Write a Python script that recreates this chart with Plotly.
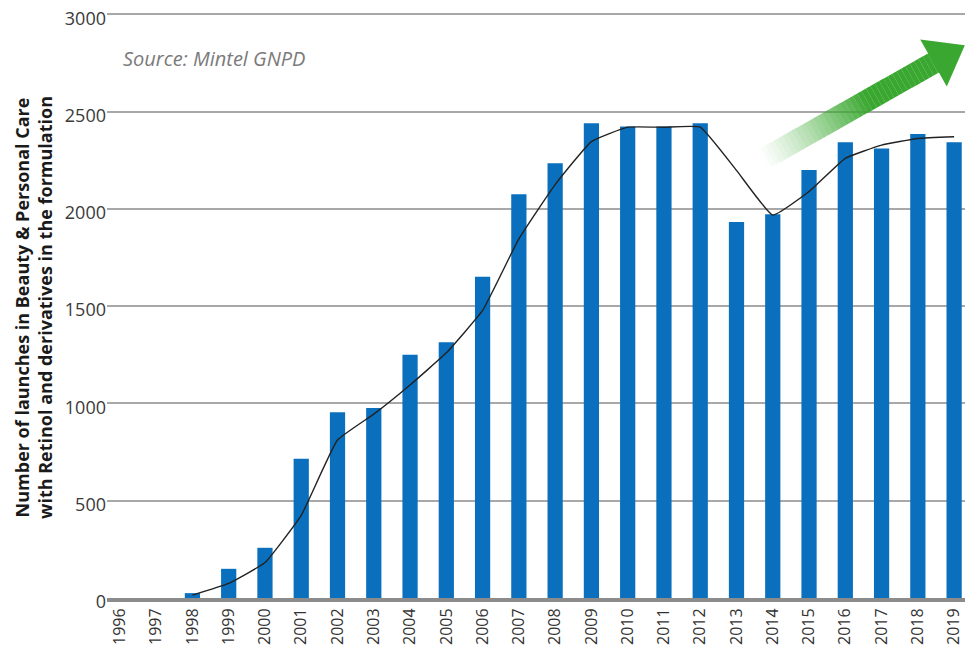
import plotly.graph_objects as go
import math

years = [str(y) for y in range(1996, 2020)]
launches = [0, 0, 25, 150, 258, 716, 955, 977, 1250, 1314, 1651, 2075, 2235,
            2440, 2423, 2423, 2440, 1933, 1972, 2200, 2342, 2311, 2385, 2342]
trend_years = [str(y) for y in range(1998, 2020)]
trend = [15, 75, 182, 425, 812, 945, 1095, 1260, 1478, 1846, 2125, 2346,
         2420, 2420, 2420, 2198, 1968, 2089, 2260, 2328, 2362, 2371]

W, H = 965, 649
ML, MR, MT, MB = 107, 0, 12, 51
PW, PH = W - ML - MR, H - MT - MB

def px2paper(x, y):
    return (x - ML) / PW, 1 - (y - MT) / PH

fig = go.Figure()
fig.add_trace(go.Bar(x=years, y=launches, width=0.42,
                     marker=dict(color="#0a6fbd", line=dict(width=0)),
                     showlegend=False))
fig.add_trace(go.Scatter(x=trend_years, y=trend, mode="lines",
                         line=dict(color="#222222", width=1.4, shape="spline", smoothing=0.35),
                         showlegend=False))

# green gradient arrow (decoration)
tail = (762, 160)
head_base = (937, 61)
dx, dy = head_base[0] - tail[0], head_base[1] - tail[1]
L = math.hypot(dx, dy)
ux, uy = dx / L, dy / L
nx, ny = -uy, ux
hw = 11
N = 40
shapes = []
for i in range(N):
    t0, t1 = i / N, (i + 1.02) / N
    pts = [
        (tail[0] + dx * t0 + nx * hw, tail[1] + dy * t0 + ny * hw),
        (tail[0] + dx * t1 + nx * hw, tail[1] + dy * t1 + ny * hw),
        (tail[0] + dx * t1 - nx * hw, tail[1] + dy * t1 - ny * hw),
        (tail[0] + dx * t0 - nx * hw, tail[1] + dy * t0 - ny * hw),
    ]
    op = min(1.0, ((i + 0.5) / N) / 0.6) ** 1.2
    path = "M " + " L ".join("%.5f,%.5f" % px2paper(*p) for p in pts) + " Z"
    shapes.append(dict(type="path", xref="paper", yref="paper", path=path,
                       fillcolor="rgba(58,168,48,%.3f)" % op, line=dict(width=0), layer="above"))
hh = 27
tipx, tipy = head_base[0] + ux * 32, head_base[1] + uy * 32
hp = [(head_base[0] + nx * hh - ux * 4, head_base[1] + ny * hh - uy * 4), (tipx, tipy),
      (head_base[0] - nx * hh - ux * 4, head_base[1] - ny * hh - uy * 4)]
path = "M " + " L ".join("%.5f,%.5f" % px2paper(*p) for p in hp) + " Z"
shapes.append(dict(type="path", xref="paper", yref="paper", path=path,
                   fillcolor="rgb(58,168,48)", line=dict(width=0), layer="above"))

sx, sy = px2paper(121, 58)
tx, ty = px2paper(33, 308)
fig.update_layout(
    width=W, height=H,
    margin=dict(l=ML, r=MR, t=MT, b=MB, autoexpand=False),
    paper_bgcolor="white", plot_bgcolor="white",
    font=dict(family="Open Sans", color="#3a3a3a"),
    shapes=shapes,
    annotations=[
        dict(text="<i>Source: Mintel GNPD</i>", xref="paper", yref="paper",
             x=sx, y=sy, xanchor="left", yanchor="middle", showarrow=False,
             font=dict(size=20, color="#7a7a7a", family="Open Sans")),
        dict(text="<b>Number of launches in Beauty &amp; Personal Care<br>with Retinol and derivatives in the formulation</b>",
             xref="paper", yref="paper", x=tx, y=ty, xanchor="center", yanchor="middle",
             textangle=-90, showarrow=False,
             font=dict(size=18, color="#1a1a1a", family="Open Sans")),
    ],
    xaxis=dict(type="category", range=[-0.355, 23.3], showgrid=False,
               tickangle=-90, tickfont=dict(size=16, color="#333333"),
               showline=True, linecolor="#8c8c8c", linewidth=4, ticks="",
               fixedrange=True),
    yaxis=dict(range=[0, 3012], tickvals=[0, 500, 1000, 1500, 2000, 2500, 3000],
               showgrid=True, gridcolor="#a8a8a8", gridwidth=1.5, zeroline=False,
               tickfont=dict(size=18, color="#3a3a3a"), ticks="",
               ticklabelshift=4, ticklabeloverflow="allow"),
)

fig.write_html("out.html", config={"displayModeBar": False},
               post_script="document.body.style.margin='0px';document.body.style.overflow='hidden';")
